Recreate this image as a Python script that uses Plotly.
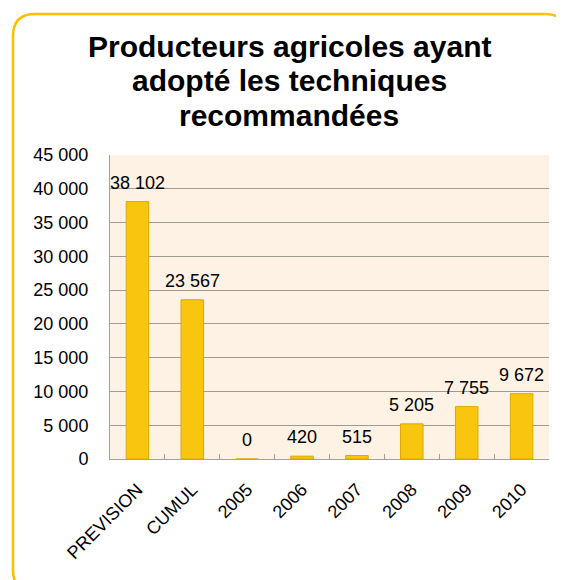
import plotly.graph_objects as go

categories = ["PREVISION", "CUMUL", "2005", "2006", "2007", "2008", "2009", "2010"]
values = [38102, 23567, 0, 420, 515, 5205, 7755, 9672]
y_ticks = [0, 5000, 10000, 15000, 20000, 25000, 30000, 35000, 40000, 45000]
title_lines = ["Producteurs agricoles ayant", "adopté les techniques", "recommandées"]

OFF = 8  # page body margin
W, H = 564 - OFF, 580 - OFF
PLOT_X0, PLOT_X1, PLOT_Y0, PLOT_Y1 = 110, 549, 155, 459  # page pixels
L, R = PLOT_X0 - OFF, W - (PLOT_X1 - OFF)
T, B = PLOT_Y0 - OFF, H - (PLOT_Y1 - OFF)
PW, PH = PLOT_X1 - PLOT_X0, PLOT_Y1 - PLOT_Y0

def fmt(v):
    return f"{v:,}".replace(",", " ")

def px(x):  # page pixel -> paper x
    return (x - PLOT_X0) / PW

def py(y):  # page pixel -> paper y
    return (PLOT_Y1 - y) / PH

FONT = "Liberation Sans, Arial, sans-serif"

fig = go.Figure()
fig.add_trace(go.Bar(
    x=categories, y=values,
    marker=dict(color="#F9C60F", line=dict(color="#DDA800", width=1)),
    width=0.41,
))

for i, v in enumerate(values):
    fig.add_annotation(x=i, y=v, xref="x", yref="y", text=fmt(v), showarrow=False,
                       yanchor="middle", yshift=19,
                       font=dict(family=FONT, size=18, color="#000"))

title_centers = [46, 81, 115]
for line, yc in zip(title_lines, title_centers):
    fig.add_annotation(x=px(289), y=py(yc), xref="paper", yref="paper",
                       text=f"<b>{line}</b>", showarrow=False,
                       xanchor="center", yanchor="middle",
                       font=dict(family=FONT, size=30, color="#000"))

x0, y0, x1, y1, r = 13, 14, 567, 592, 22
path = (f"M {px(x0)},{py(y0 + r)} Q {px(x0)},{py(y0)} {px(x0 + r)},{py(y0)} "
        f"L {px(x1 - r)},{py(y0)} Q {px(x1)},{py(y0)} {px(x1)},{py(y0 + r)} "
        f"L {px(x1)},{py(y1 - r)} Q {px(x1)},{py(y1)} {px(x1 - r)},{py(y1)} "
        f"L {px(x0 + r)},{py(y1)} Q {px(x0)},{py(y1)} {px(x0)},{py(y1 - r)} Z")
fig.add_shape(type="path", path=path, xref="paper", yref="paper",
              line=dict(color="#FFC000", width=2.5), layer="above")

fig.update_layout(
    width=W, height=H,
    margin=dict(l=L, r=R, t=T, b=B, pad=0, autoexpand=False),
    paper_bgcolor="white",
    plot_bgcolor="#FDF2E3",
    separators=", ",
    showlegend=False,
    xaxis=dict(
        type="category",
        range=[-0.5, len(categories) - 0.5],
        tickangle=-45,
        tickson="boundaries",
        ticks="inside", ticklen=5, tickcolor="#A0A0A0",
        showline=True, linecolor="#A0A0A0", linewidth=1,
        showgrid=False,
        ticklabelstandoff=12,
        tickfont=dict(family=FONT, size=18, color="#000"),
    ),
    yaxis=dict(
        range=[0, 45000],
        tickvals=y_ticks,
        ticktext=[fmt(v) for v in y_ticks],
        showgrid=True, gridcolor="#A09A94", gridwidth=1,
        showline=True, linecolor="#A0A0A0", linewidth=1,
        zeroline=False,
        ticks="", ticklabelstandoff=17,
        tickfont=dict(family=FONT, size=18, color="#000"),
    ),
)

fig.write_html("out.html")
